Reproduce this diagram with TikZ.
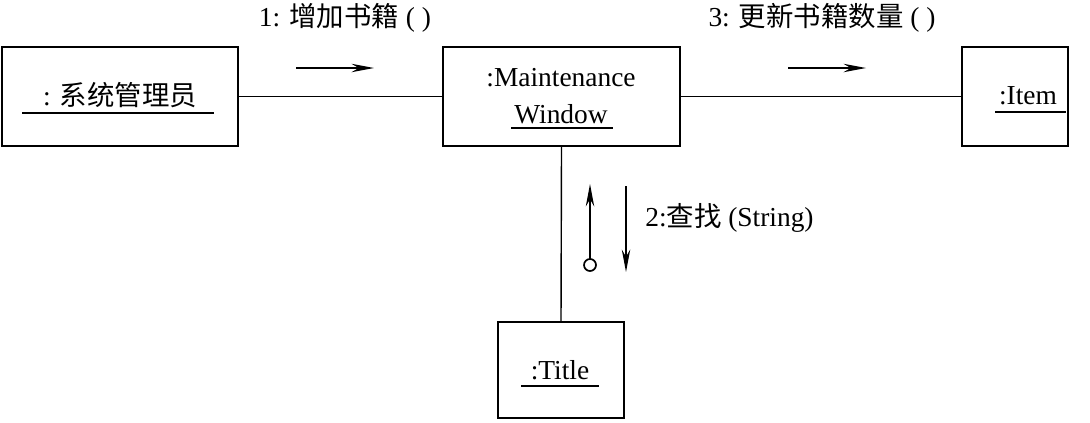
\documentclass[tikz,border=0pt]{standalone}
\usepackage{fontspec}
\setmainfont{Liberation Serif}
\newfontfamily\cjk{Noto Sans CJK SC}
\usetikzlibrary{arrows.meta}
\begin{document}
\begin{tikzpicture}[x=0.025cm,y=-0.025cm,
  box/.style={draw,line width=1.2pt,inner sep=0pt},
  lbl/.style={font=\fontsize{19.5}{22}\selectfont,inner sep=0pt},
  conn/.style={line width=1pt},
  msg/.style={line width=1pt,-{Stealth[length=16pt,width=6pt]}}]
\useasboundingbox (0,0) rectangle (1090,422);
\node[box,minimum width=5.9cm,minimum height=2.475cm] (adm) at (120,96.5) {};
\node[box,minimum width=5.925cm,minimum height=2.475cm] (mw) at (561.5,96.5) {};
\node[box,minimum width=2.65cm,minimum height=2.475cm] (it) at (1015,96.5) {};
\node[box,minimum width=3.15cm,minimum height=2.4cm] (ti) at (561,370) {};
\draw[conn] (adm.east) -- (mw.west);
\draw[conn] (mw.east) -- (it.west);
\draw[conn] (mw.south) -- (ti.north);
\node[lbl] (t1) at (120,95) {: {\cjk 系统管理员}};
\draw[line width=0.8pt] (22,113) -- (214,113);
\node[lbl] (t2) at (561,78) {:Maintenance};
\node[lbl] (t3) at (561,114) {Window};
\draw[line width=0.8pt] (511,128) -- (613,128);
\node[lbl] (t4) at (1028,96) {:Item};
\draw[line width=0.8pt] (995,112) -- (1066,112);
\node[lbl] (t5) at (560,370) {:Title};
\draw[line width=0.8pt] (521,386) -- (599,386);
\node[lbl] (m1) at (345,18) {1: {\cjk 增加书籍} ( )};
\node[lbl] (m3) at (822,18) {3: {\cjk 更新书籍数量} ( )};
\node[lbl,anchor=west] (m2) at (645,218) {2:{\cjk 查找} (String)};
\coordinate (a1s) at (296,68); \coordinate (a1e) at (374,68);
\coordinate (a3s) at (788,68); \coordinate (a3e) at (866,68);
\draw[msg] (a1s) -- (a1e);
\draw[msg] (a3s) -- (a3e);
\coordinate (c) at (590,265);
\coordinate (u) at (590,184);
\draw[msg] (c) ++(0,-6) -- (u);
\draw[line width=1.2pt,fill=white] (c) circle (6);
\coordinate (ds) at (626,186); \coordinate (de) at (626,272);
\draw[msg] (ds) -- (de);
\end{tikzpicture}
\end{document}
